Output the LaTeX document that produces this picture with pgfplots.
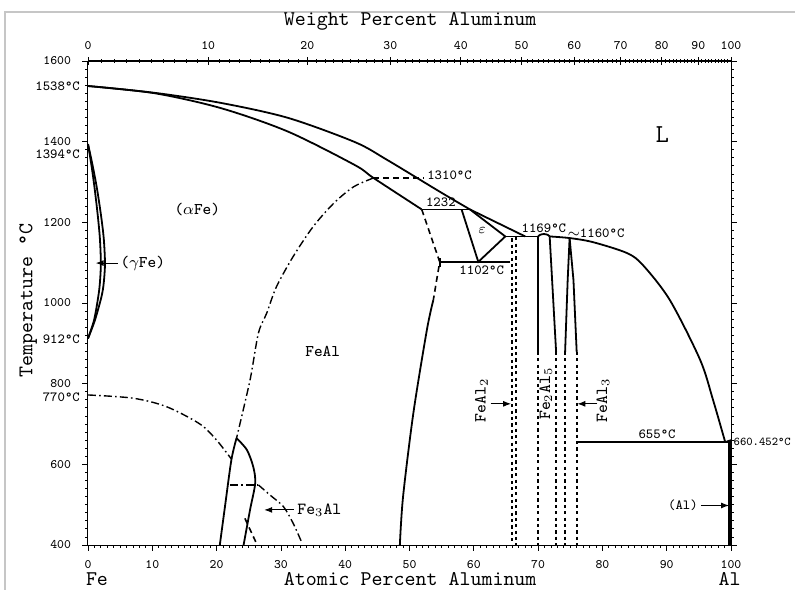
\documentclass[border=0pt]{standalone}
\usepackage{fontspec}
\usepackage{pgfplots}
\pgfplotsset{compat=1.18}
\usetikzlibrary{arrows.meta}
\def\wtminor{0}
\foreach \w in {1,...,99}{\pgfmathparse{206.99/(100/\w+1.0699)}\xdef\wtminor{\wtminor,\pgfmathresult}}
\tikzset{
  ph/.style={line width=0.9pt,black},
  dd/.style={line width=0.7pt,black,dash pattern=on 4pt off 1.6pt on 0.8pt off 1.6pt},
  ds/.style={line width=0.8pt,black,dash pattern=on 3pt off 2pt},
  dt/.style={line width=0.9pt,black,dash pattern=on 1.6pt off 1.6pt},
  lab/.style={font=\fontsize{7}{8}\ttfamily},
  rot/.style={font=\fontsize{8.5}{9}\ttfamily},
  reg/.style={font=\fontsize{8.2}{9}\ttfamily},
  big/.style={font=\fontsize{10.5}{12}\ttfamily},
}
\begin{document}
\begin{tikzpicture}
\useasboundingbox (-44bp,-22.5bp) rectangle (353.5bp,272.5bp);
\draw[gray!45,line width=0.8pt] (-41.5bp,-30bp) -- (-41.5bp,266.5bp) -- (360bp,266.5bp);
\begin{axis}[at={(0,0)},anchor=south west,scale only axis,width=321.5bp,height=242bp,
  xmin=0,xmax=100,ymin=400,ymax=1600,clip=false,
  axis line style={line width=0.5pt},
  xtick={0,10,...,100},minor x tick num=9,
  ytick={400,600,...,1600},minor y tick num=9,
  xtick pos=bottom,ytick pos=both,
  tick align=outside,
  major tick length=3pt,minor tick length=1.5pt,
  tick style={line width=0.4pt,black},
  tick label style={font=\fontsize{6.5}{7}\ttfamily},
  /pgf/number format/assume math mode=true,
  /pgf/number format/1000 sep={},
  yticklabel style={xshift=-2bp},
  xticklabel style={yshift=-1bp},
]
% gamma loop
\addplot[ph,smooth] coordinates {(0,1394)(0.6,1350)(1.35,1288)(2.0,1220)(2.45,1160)(2.64,1098)(2.45,1050)(2.1,1016)(1.09,958)(0,912)};
\addplot[ph,smooth] coordinates {(0,1394)(0.55,1340)(1.0,1288)(1.5,1220)(1.85,1160)(2.0,1098)(1.85,1050)(1.6,1016)(0.95,958)(0,912)};
% liquidus
\addplot[ph,smooth] coordinates {(0,1538)(10.4,1521)(20.7,1496)(31.1,1459)(41.5,1399)(46.5,1355)(54.7,1276)(59.4,1232)};
\addplot[ph] coordinates {(59.4,1232)(68,1165)};
% solidus
\addplot[ph,smooth] coordinates {(0,1538)(10.4,1520)(20.7,1483)(31.1,1425)(41.5,1342)(44.4,1310)(51.9,1232)};
\addplot[ds] coordinates {(44.4,1310)(52.2,1310)};
\addplot[ph] coordinates {(51.9,1232)(59.4,1232)};
% epsilon
\addplot[ph] coordinates {(58.1,1232)(60.7,1102)(64.9,1165)(59.4,1232)};
\addplot[ph] coordinates {(54.7,1102)(65.6,1102)};
\addplot[ph] coordinates {(54.7,1090)(54.7,1112)};
\addplot[ph] coordinates {(64.9,1165)(70.0,1165)};
% FeAl boundary
\addplot[ds] coordinates {(51.9,1232)(54.7,1102)(53.7,1007)};
\addplot[ph,smooth] coordinates {(53.7,1007)(52.7,933)(50.6,727)(49.0,520)(48.5,400)};
% FeAl2
\addplot[dt] coordinates {(65.9,1160)(65.9,400)};
\addplot[dt] coordinates {(66.6,1163)(66.6,400)};
% Fe2Al5
\addplot[ph,smooth] coordinates {(70.0,1165)(70.3,1169)(70.9,1171)(71.5,1169)(71.8,1165)};
\addplot[ph] coordinates {(70.0,1165)(70.0,879)};
\addplot[dt] coordinates {(70.0,879)(70.0,400)};
\addplot[ph] coordinates {(71.8,1165)(72.8,879)};
\addplot[dt] coordinates {(72.8,879)(72.8,400)};
% FeAl3
\addplot[ph] coordinates {(74.9,1161)(74.6,1057)(74.2,879)};
\addplot[dt] coordinates {(74.2,879)(74.2,400)};
\addplot[ph] coordinates {(74.9,1161)(75.5,1057)(76.0,879)};
\addplot[dt] coordinates {(76.0,879)(76.0,400)};
% Al-rich liquidus
\addplot[ph,smooth] coordinates {(71.8,1165)(74.9,1161)(78.5,1151)(83.8,1124)(86.3,1094)(90.5,1007)(95.2,859)(97.2,760)(99.1,655)};
\addplot[ph] coordinates {(99.1,655)(100,660)};
\addplot[ph] coordinates {(76.0,655)(100,655)};
\addplot[line width=1.6pt] coordinates {(99.85,400)(99.85,655)};
% A2/B2 order line
\addplot[dd,smooth] coordinates {(44.4,1310)(41.3,1288)(38.2,1247)(35.0,1189)(31.9,1115)(29.3,1040)(27.8,975)(26.5,925)(25.2,809)(23.1,665)};
% Fe3Al
\addplot[ph,smooth] coordinates {(23.1,665)(22.3,611)(21.3,495)(20.5,400)};
\addplot[ph,smooth] coordinates {(23.1,665)(24.7,636)(25.7,594)(26.0,553)(25.2,487)(24.2,400)};
\addplot[dd] coordinates {(22.1,549)(26.5,549)};
\addplot[dd,smooth] coordinates {(26.5,549)(28.3,524)(30.4,495)(31.9,454)(33.2,408)};
\addplot[ds] coordinates {(24.4,466)(26.2,404)};
% Curie line
\addplot[dd,smooth] coordinates {(0,772)(7.0,764)(12.2,743)(17.4,700)(20.0,660)(22.3,613)};
% arrows
\draw[line width=0.5pt,-{Latex[length=4pt,width=3pt]}] (axis cs:4.6,1099) -- (axis cs:1.2,1099);
\draw[line width=0.5pt,-{Latex[length=4pt,width=3pt]}] (axis cs:32.0,487) -- (axis cs:27.4,487);
\draw[line width=0.5pt,-{Latex[length=4pt,width=3pt]}] (axis cs:62.6,750) -- (axis cs:65.8,750);
\draw[line width=0.5pt,-{Latex[length=4pt,width=3pt]}] (axis cs:79.2,750) -- (axis cs:76.1,750);
\draw[line width=0.5pt,-{Latex[length=4pt,width=3pt]}] (axis cs:95.3,498) -- (axis cs:99.7,498);
% labels
\node[reg,anchor=west,inner sep=1pt] at (axis cs:4.7,1099) {($\gamma$Fe)};
\node[reg] at (axis cs:17,1231) {($\alpha$Fe)};
\node[reg] at (axis cs:36.5,879) {FeAl};
\node[font=\fontsize{13}{14}\ttfamily] at (axis cs:89.3,1417) {L};
\node[lab,anchor=west,inner sep=1pt] at (axis cs:52.4,1317) {1310°C};
\node[lab,anchor=south west,inner sep=1pt] at (axis cs:52.2,1233) {1232};
\node[lab,anchor=west,inner sep=1pt] at (axis cs:57.4,1082) {1102°C};
\node[lab] at (axis cs:61.3,1181) {$\varepsilon$};
\node[lab] at (axis cs:70.9,1186) {1169°C};
\node[lab] at (axis cs:79.0,1174) {$\sim$1160°C};
\node[lab] at (axis cs:88.5,675) {655°C};
\node[font=\fontsize{6}{7}\ttfamily,anchor=west,inner sep=0.5pt] at (axis cs:100.2,657) {660.452°C};
\node[rot,anchor=west,inner sep=1pt] at (axis cs:32.2,487) {Fe$_3$Al};
\node[lab,anchor=east,inner sep=1pt] at (axis cs:95.2,498) {(Al)};
\node[rot,rotate=90] at (axis cs:61.2,758) {FeAl$_2$};
\node[rot,rotate=90] at (axis cs:71.2,775) {Fe$_2$Al$_5$};
\node[rot,rotate=90] at (axis cs:80.1,758) {FeAl$_3$};
\node[lab,anchor=east,inner sep=1pt] at (axis cs:-0.9,1538) {1538°C};
\node[lab,anchor=east,inner sep=1pt] at (axis cs:-0.9,1368) {1394°C};
\node[lab,anchor=east,inner sep=1pt] at (axis cs:-0.9,910) {912°C};
\node[lab,anchor=east,inner sep=1pt] at (axis cs:-0.9,767) {770°C};
\node[big,rotate=90] at (axis cs:-9.3,1007) {Temperature °C};
\node[big] at (axis cs:50.1,316) {Atomic Percent Aluminum};
\node[big] at (axis cs:1.4,316) {Fe};
\node[big] at (axis cs:99.8,316) {Al};
\node[big] at (axis cs:50.1,1697) {Weight Percent Aluminum};
\end{axis}
\begin{axis}[at={(0,0)},anchor=south west,scale only axis,width=321.5bp,height=242bp,
  xmin=0,xmax=100,ymin=400,ymax=1600,
  axis x line*=top,axis y line=none,
  axis line style={line width=0.5pt,-},
  xtick={0,18.699,34.101,47.008,57.980,67.42,75.64,82.85,89.22,94.91,100},
  xticklabels={0,10,20,30,40,50,60,70,80,90,100},
  minor xtick/.expanded={\wtminor},
  tick align=center,
  major tick length=4pt,minor tick length=2pt,
  tick style={line width=0.4pt,black},
  tick label style={font=\fontsize{6.5}{7}\ttfamily},
  xticklabel style={yshift=0bp},
]
\addplot[draw=none] coordinates {(0,400)(100,1600)};
\end{axis}
\end{tikzpicture}
\end{document}
